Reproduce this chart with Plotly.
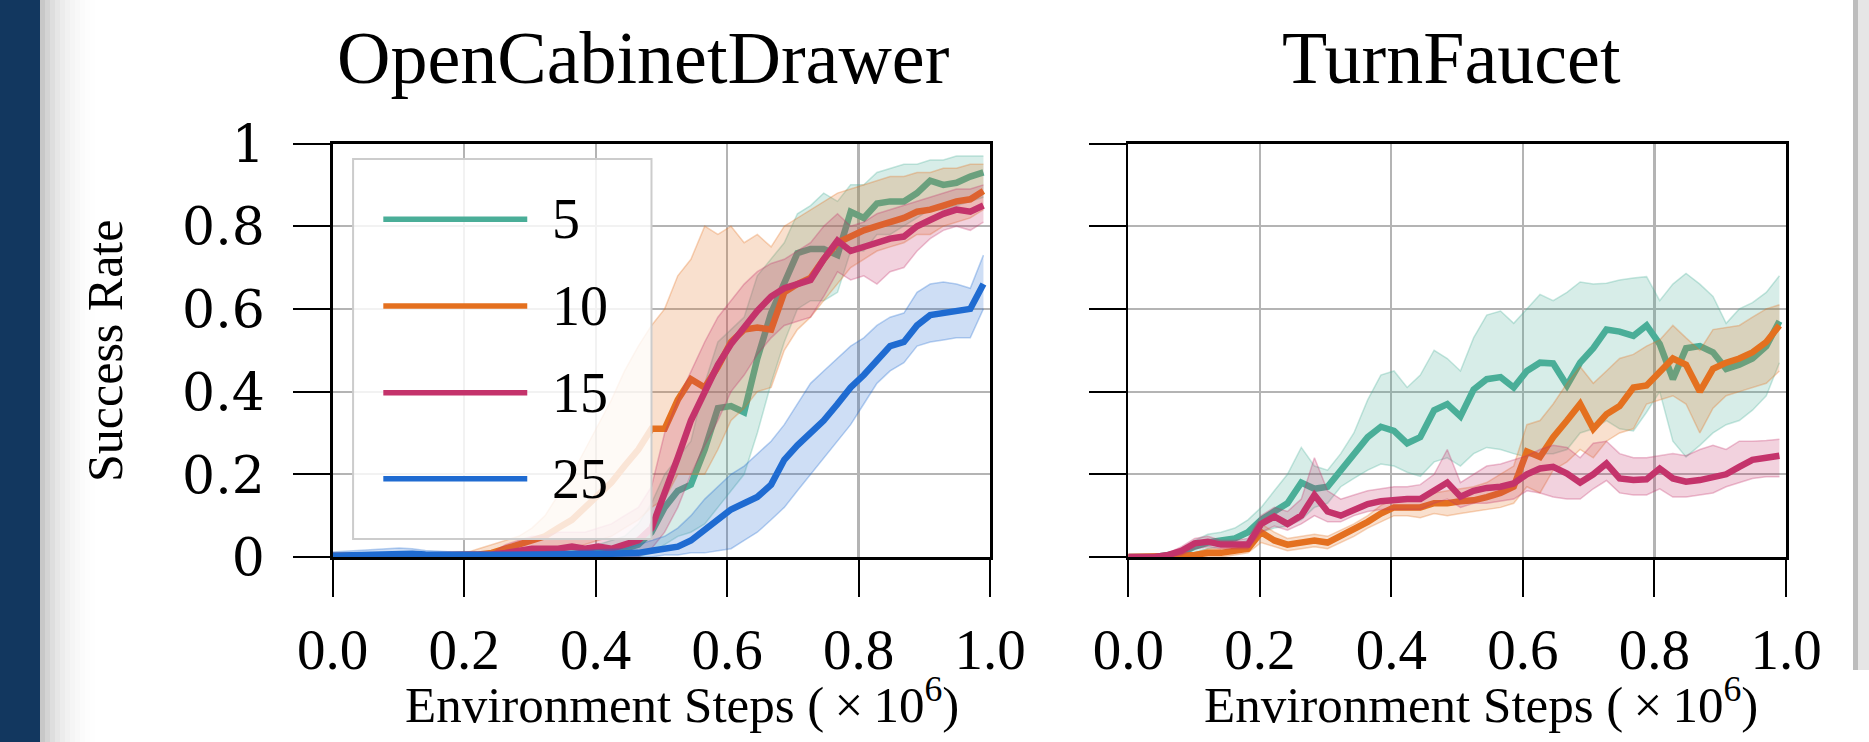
import plotly.graph_objects as go

# ---------------- data ----------------
STEPS = [0.000, 0.020, 0.040, 0.061, 0.081, 0.101, 0.121, 0.141, 0.162, 0.182,
         0.202, 0.222, 0.242, 0.263, 0.283, 0.303, 0.323, 0.343, 0.364, 0.384,
         0.404, 0.424, 0.444, 0.465, 0.485, 0.505, 0.525, 0.545, 0.566, 0.586,
         0.606, 0.626, 0.646, 0.667, 0.687, 0.707, 0.727, 0.747, 0.768, 0.788,
         0.808, 0.828, 0.848, 0.869, 0.889, 0.909, 0.929, 0.949, 0.970, 0.990]

SERIES = ["5", "10", "15", "25"]
TASKS = ["OpenCabinetDrawer", "TurnFaucet"]
X_TICKS = [0.0, 0.2, 0.4, 0.6, 0.8, 1.0]
X_TICK_TEXT = ["0.0", "0.2", "0.4", "0.6", "0.8", "1.0"]
Y_TICKS = [0, 0.2, 0.4, 0.6, 0.8, 1]
Y_TICK_TEXT = ["0", "0.2", "0.4", "0.6", "0.8", "1"]

# OpenCabinetDrawer
OCD_5_MEAN = [0.0, 0.0, 0.002, 0.002, 0.002, 0.003, 0.003, 0.003, 0.003, 0.004,
              0.004, 0.004, 0.005, 0.005, 0.005, 0.006, 0.006, 0.007, 0.008, 0.009,
              0.01, 0.015, 0.02, 0.03, 0.06, 0.12, 0.16, 0.175, 0.26, 0.36,
              0.365, 0.35, 0.48, 0.59, 0.66, 0.735, 0.745, 0.745, 0.73, 0.835,
              0.82, 0.855, 0.86, 0.86, 0.88, 0.91, 0.90, 0.905, 0.92, 0.93]
OCD_5_LO = [0.0] * 20 + \
           [0.0, 0.0, 0.0, 0.0, 0.01, 0.03, 0.05, 0.06, 0.08, 0.12,
            0.16, 0.2, 0.3, 0.42, 0.52, 0.6, 0.62, 0.62, 0.64, 0.74,
            0.74, 0.78, 0.78, 0.8, 0.82, 0.84, 0.84, 0.85, 0.86, 0.87]
OCD_5_HI = [0.006] * 20 + \
           [0.03, 0.04, 0.05, 0.08, 0.13, 0.2, 0.24, 0.28, 0.42, 0.52,
            0.55, 0.58, 0.68, 0.72, 0.76, 0.83, 0.85, 0.88, 0.86, 0.9,
            0.9, 0.93, 0.94, 0.95, 0.95, 0.96, 0.96, 0.97, 0.97, 0.97]

OCD_10_MEAN = [0.0, 0.0, 0.002, 0.002, 0.002, 0.003, 0.003, 0.003, 0.004, 0.004,
               0.005, 0.006, 0.01, 0.02, 0.03, 0.04, 0.05, 0.07, 0.09, 0.12,
               0.15, 0.18, 0.22, 0.26, 0.31, 0.31, 0.38, 0.43, 0.41, 0.46,
               0.52, 0.55, 0.555, 0.55, 0.64, 0.66, 0.675, 0.72, 0.76, 0.775,
               0.79, 0.80, 0.81, 0.82, 0.835, 0.84, 0.85, 0.86, 0.865, 0.885]
OCD_10_LO = [0.0] * 17 + \
            [0.01, 0.02, 0.03, 0.04, 0.05, 0.07, 0.09, 0.12, 0.14, 0.2,
             0.2, 0.2, 0.26, 0.33, 0.36, 0.4, 0.41, 0.5, 0.55, 0.58,
             0.62, 0.66, 0.7, 0.72, 0.74, 0.75, 0.76, 0.78, 0.78, 0.8,
             0.81, 0.82, 0.84]
OCD_10_HI = [0.01] * 11 + \
            [0.02, 0.03, 0.04, 0.05, 0.07, 0.1, 0.15, 0.2, 0.26, 0.32,
             0.38, 0.45, 0.51, 0.56, 0.6, 0.68, 0.72, 0.8, 0.78, 0.8,
             0.76, 0.78, 0.75, 0.8, 0.82, 0.84, 0.86, 0.88, 0.89, 0.9,
             0.91, 0.92, 0.92, 0.93, 0.93, 0.94, 0.94, 0.95, 0.95]

OCD_15_MEAN = [0.0, 0.002, 0.003, 0.003, 0.003, 0.003, 0.003, 0.004, 0.004, 0.004,
               0.005, 0.005, 0.006, 0.01, 0.015, 0.02, 0.02, 0.02, 0.025, 0.02,
               0.025, 0.02, 0.03, 0.04, 0.07, 0.15, 0.24, 0.33, 0.40, 0.465,
               0.515, 0.555, 0.595, 0.63, 0.65, 0.66, 0.67, 0.72, 0.765, 0.74,
               0.75, 0.76, 0.77, 0.775, 0.80, 0.815, 0.83, 0.84, 0.835, 0.85]
OCD_15_LO = [0.0] * 23 + \
            [0.0, 0.02, 0.06, 0.12, 0.2, 0.27, 0.33, 0.4, 0.44, 0.49,
             0.53, 0.56, 0.57, 0.58, 0.63, 0.69, 0.67, 0.68, 0.66, 0.69,
             0.7, 0.74, 0.77, 0.79, 0.8, 0.79, 0.81]
OCD_15_HI = [0.01] * 13 + \
            [0.03, 0.04, 0.05, 0.05, 0.06, 0.06, 0.06, 0.07, 0.08, 0.1,
             0.12, 0.17, 0.3, 0.38, 0.45, 0.52, 0.58, 0.62, 0.66, 0.69,
             0.71, 0.72, 0.74, 0.76, 0.8, 0.83, 0.8, 0.81, 0.83, 0.84,
             0.85, 0.86, 0.87, 0.88, 0.89, 0.89, 0.9]

OCD_25_MEAN = [0.003, 0.004, 0.005, 0.006, 0.008, 0.01, 0.008, 0.006, 0.005, 0.005,
               0.005, 0.005, 0.005, 0.005, 0.005, 0.006, 0.006, 0.006, 0.007, 0.007,
               0.008, 0.008, 0.009, 0.01, 0.015, 0.02, 0.025, 0.04, 0.065, 0.09,
               0.115, 0.13, 0.145, 0.175, 0.235, 0.27, 0.30, 0.33, 0.37, 0.41,
               0.44, 0.475, 0.51, 0.52, 0.56, 0.585, 0.59, 0.595, 0.60, 0.66]
OCD_25_LO = [0.0] * 23 + \
            [0.0, 0.0, 0.005, 0.005, 0.01, 0.01, 0.015, 0.02, 0.04, 0.06,
             0.09, 0.12, 0.16, 0.2, 0.24, 0.28, 0.32, 0.37, 0.42, 0.45,
             0.47, 0.51, 0.52, 0.525, 0.53, 0.53, 0.6]
OCD_25_HI = [0.012, 0.014, 0.016, 0.018, 0.02, 0.022, 0.02, 0.016, 0.014, 0.012,
             0.012, 0.012, 0.012, 0.012, 0.012, 0.013, 0.013, 0.014, 0.015, 0.016,
             0.017, 0.018, 0.02, 0.03, 0.04, 0.05, 0.07, 0.1, 0.14, 0.17,
             0.2, 0.22, 0.25, 0.28, 0.32, 0.37, 0.42, 0.45, 0.48, 0.51,
             0.53, 0.56, 0.58, 0.59, 0.64, 0.66, 0.665, 0.66, 0.65, 0.73]

# TurnFaucet
TF_5_MEAN = [0.0, 0.0, 0.0, 0.005, 0.01, 0.025, 0.035, 0.04, 0.045, 0.06,
             0.09, 0.11, 0.13, 0.18, 0.165, 0.17, 0.21, 0.25, 0.29, 0.315,
             0.305, 0.275, 0.29, 0.355, 0.37, 0.34, 0.405, 0.43, 0.435, 0.41,
             0.45, 0.47, 0.468, 0.415, 0.47, 0.505, 0.55, 0.545, 0.535, 0.56,
             0.515, 0.43, 0.505, 0.51, 0.495, 0.455, 0.465, 0.48, 0.51, 0.57]
TF_5_LO = [0.0, 0.0, 0.0, 0.0, 0.0, 0.01, 0.02, 0.025, 0.03, 0.04,
           0.06, 0.07, 0.075, 0.09, 0.12, 0.13, 0.17, 0.19, 0.21, 0.225,
           0.22, 0.205, 0.195, 0.23, 0.24, 0.22, 0.25, 0.265, 0.26, 0.25,
           0.242, 0.25, 0.25, 0.26, 0.3, 0.31, 0.33, 0.31, 0.305, 0.35,
           0.4, 0.28, 0.242, 0.27, 0.3, 0.32, 0.33, 0.355, 0.39, 0.47]
TF_5_HI = [0.005, 0.005, 0.005, 0.01, 0.02, 0.04, 0.055, 0.06, 0.07, 0.09,
           0.12, 0.16, 0.2, 0.265, 0.22, 0.21, 0.25, 0.3, 0.38, 0.44,
           0.45, 0.41, 0.44, 0.5, 0.48, 0.45, 0.53, 0.585, 0.595, 0.565,
           0.6, 0.635, 0.62, 0.64, 0.665, 0.66, 0.662, 0.67, 0.675, 0.678,
           0.62, 0.66, 0.686, 0.66, 0.63, 0.565, 0.6, 0.615, 0.64, 0.68]

TF_10_MEAN = [0.0, 0.0, 0.0, 0.0, 0.003, 0.005, 0.01, 0.01, 0.015, 0.02,
              0.06, 0.04, 0.03, 0.035, 0.04, 0.035, 0.05, 0.065, 0.085, 0.105,
              0.12, 0.12, 0.12, 0.13, 0.13, 0.135, 0.137, 0.145, 0.155, 0.17,
              0.255, 0.242, 0.29, 0.33, 0.37, 0.31, 0.345, 0.365, 0.41, 0.415,
              0.45, 0.48, 0.465, 0.4, 0.455, 0.47, 0.48, 0.495, 0.52, 0.56]
TF_10_LO = [0.0, 0.0, 0.0, 0.0, 0.0, 0.0, 0.0, 0.0, 0.005, 0.01,
            0.035, 0.025, 0.015, 0.02, 0.025, 0.02, 0.035, 0.05, 0.07, 0.085,
            0.1, 0.1, 0.095, 0.105, 0.1, 0.105, 0.11, 0.115, 0.12, 0.13,
            0.17, 0.155, 0.21, 0.23, 0.26, 0.24, 0.28, 0.3, 0.31, 0.37,
            0.38, 0.39, 0.37, 0.3, 0.36, 0.39, 0.4, 0.41, 0.42, 0.45]
TF_10_HI = [0.005, 0.005, 0.005, 0.005, 0.005, 0.01, 0.02, 0.02, 0.025, 0.03,
            0.08, 0.06, 0.045, 0.05, 0.055, 0.05, 0.065, 0.08, 0.1, 0.125,
            0.14, 0.14, 0.145, 0.155, 0.16, 0.165, 0.17, 0.18, 0.2, 0.22,
            0.32, 0.33, 0.37, 0.42, 0.46, 0.42, 0.45, 0.48, 0.49, 0.51,
            0.525, 0.56, 0.53, 0.5, 0.55, 0.555, 0.56, 0.58, 0.6, 0.61]

TF_15_MEAN = [0.0, 0.0, 0.0, 0.005, 0.015, 0.033, 0.037, 0.03, 0.029, 0.03,
              0.08, 0.098, 0.08, 0.1, 0.15, 0.11, 0.1, 0.115, 0.128, 0.135,
              0.138, 0.14, 0.14, 0.16, 0.18, 0.146, 0.16, 0.167, 0.17, 0.178,
              0.2, 0.214, 0.218, 0.202, 0.18, 0.2, 0.226, 0.19, 0.186, 0.188,
              0.214, 0.19, 0.182, 0.186, 0.192, 0.2, 0.218, 0.235, 0.24, 0.245]
TF_15_LO = [0.0, 0.0, 0.0, 0.0, 0.005, 0.02, 0.025, 0.02, 0.02, 0.02,
            0.06, 0.075, 0.065, 0.08, 0.1, 0.085, 0.085, 0.1, 0.11, 0.115,
            0.115, 0.115, 0.115, 0.13, 0.14, 0.12, 0.13, 0.13, 0.135, 0.14,
            0.16, 0.155, 0.145, 0.14, 0.14, 0.165, 0.185, 0.155, 0.15, 0.15,
            0.165, 0.145, 0.145, 0.15, 0.155, 0.17, 0.18, 0.19, 0.194, 0.194]
TF_15_HI = [0.005, 0.005, 0.005, 0.01, 0.025, 0.045, 0.05, 0.04, 0.04, 0.045,
            0.1, 0.12, 0.11, 0.14, 0.24, 0.16, 0.14, 0.15, 0.16, 0.165,
            0.17, 0.17, 0.175, 0.2, 0.26, 0.18, 0.2, 0.22, 0.225, 0.235,
            0.245, 0.26, 0.27, 0.265, 0.24, 0.275, 0.28, 0.25, 0.24, 0.24,
            0.245, 0.25, 0.245, 0.26, 0.27, 0.26, 0.28, 0.28, 0.282, 0.285]

COLORS = {"5": "#4aae98", "10": "#e4701f", "15": "#c4336b", "25": "#1f6bd1"}

PANELS = [
    ("x", "y", [("5", OCD_5_MEAN, OCD_5_LO, OCD_5_HI),
                ("10", OCD_10_MEAN, OCD_10_LO, OCD_10_HI),
                ("15", OCD_15_MEAN, OCD_15_LO, OCD_15_HI),
                ("25", OCD_25_MEAN, OCD_25_LO, OCD_25_HI)]),
    ("x2", "y2", [("5", TF_5_MEAN, TF_5_LO, TF_5_HI),
                  ("10", TF_10_MEAN, TF_10_LO, TF_10_HI),
                  ("15", TF_15_MEAN, TF_15_LO, TF_15_HI)]),
]

W, H = 1869, 742
SERIF = "Liberation Serif"


def rgba(hexcol, a):
    h = hexcol.lstrip("#")
    r, g, b = int(h[0:2], 16), int(h[2:4], 16), int(h[4:6], 16)
    return f"rgba({r},{g},{b},{a})"


fig = go.Figure()
for xa, ya, series in PANELS:
    for name, mean, lo, hi in series:
        c = COLORS[name]
        fig.add_trace(go.Scatter(x=STEPS, y=lo, xaxis=xa, yaxis=ya, mode="lines",
                                 line=dict(color=rgba(c, 0.3), width=1.5),
                                 showlegend=False, hoverinfo="skip"))
        fig.add_trace(go.Scatter(x=STEPS, y=hi, xaxis=xa, yaxis=ya, mode="lines",
                                 fill="tonexty", fillcolor=rgba(c, 0.22),
                                 line=dict(color=rgba(c, 0.3), width=1.5),
                                 showlegend=False, hoverinfo="skip"))
        fig.add_trace(go.Scatter(x=STEPS, y=mean, xaxis=xa, yaxis=ya, mode="lines",
                                 name=name, line=dict(color=c, width=6.5),
                                 showlegend=False))

# pixel geometry of the two panels
PX_L = (332.7, 990.0)
PX_R = (1128.3, 1786.0)
PX_TOP, PX_BOT = 143.5, 557.0

axis_common = dict(range=[0, 1], showgrid=True, gridcolor="#b4b4b4", gridwidth=2.2,
                   showline=True, linecolor="black", linewidth=2.5, mirror=True,
                   ticks="outside", ticklen=37, tickwidth=2, tickcolor="black",
                   zeroline=False, fixedrange=True, automargin=False)

xdom_l = [PX_L[0] / W, PX_L[1] / W]
xdom_r = [PX_R[0] / W, PX_R[1] / W]
ydom = [(H - PX_BOT) / H, (H - PX_TOP) / H]

xfont = dict(family=SERIF, size=57, color="black")
yfont = dict(family="DejaVu Serif", size=52, color="black")

fig.update_layout(
    width=W, height=H,
    margin=dict(l=0, r=0, t=0, b=0, pad=0, autoexpand=False),
    paper_bgcolor="white", plot_bgcolor="white",
    showlegend=False,
    xaxis=dict(domain=xdom_l, anchor="y", tickvals=X_TICKS, ticktext=X_TICK_TEXT,
               tickfont=xfont, ticklabelstandoff=4, **axis_common),
    yaxis=dict(domain=ydom, anchor="x", tickvals=Y_TICKS, ticktext=Y_TICK_TEXT,
               tickfont=yfont, ticklabelstandoff=18, **axis_common),
    xaxis2=dict(domain=xdom_r, anchor="y2", tickvals=X_TICKS, ticktext=X_TICK_TEXT,
                tickfont=xfont, ticklabelstandoff=4, **axis_common),
    yaxis2=dict(domain=ydom, anchor="x2", tickvals=Y_TICKS, showticklabels=False,
                **axis_common),
)

shapes = []
# dark navy band on the left edge + soft shadow
shapes.append(dict(type="rect", xref="paper", yref="paper", x0=0, x1=40 / W, y0=0, y1=1,
                   fillcolor="#12375f", line=dict(width=0), layer="below"))
shade = [200, 212, 222, 230, 236, 241, 245, 248, 251, 253, 254]
for k, v in enumerate(shade):
    shapes.append(dict(type="rect", xref="paper", yref="paper",
                       x0=(40 + 5 * k) / W, x1=(45 + 5 * k) / W, y0=0, y1=1,
                       fillcolor=f"rgb({v},{v},{v})", line=dict(width=0), layer="below"))
# light grey strip on the right edge
shapes.append(dict(type="rect", xref="paper", yref="paper", x0=1853 / W, x1=1858 / W,
                   y0=(H - 670) / H, y1=1, fillcolor="#bdbdbd", line=dict(width=0), layer="below"))
shapes.append(dict(type="rect", xref="paper", yref="paper", x0=1858 / W, x1=1,
                   y0=(H - 670) / H, y1=1, fillcolor="#e6e6e6", line=dict(width=0), layer="below"))

# manual legend inside the left panel (long line samples)
shapes.append(dict(type="rect", xref="x domain", yref="y domain", x0=0.031, x1=0.485,
                   y0=0.0435, y1=0.9625, fillcolor="rgba(255,255,255,0.82)",
                   line=dict(color="#cccccc", width=2), layer="above"))
LEG_Y = [0.817, 0.607, 0.397, 0.189]
annotations = []
for name, ly in zip(SERIES, LEG_Y):
    shapes.append(dict(type="line", xref="x domain", yref="y domain", x0=0.077, x1=0.296,
                       y0=ly, y1=ly, line=dict(color=COLORS[name], width=5.5), layer="above"))
    annotations.append(dict(xref="x domain", yref="y domain", x=0.33, y=ly, text=name,
                            showarrow=False, xanchor="left", yanchor="middle",
                            font=dict(family=SERIF, size=56, color="black")))

# panel titles
for task, cx in zip(TASKS, [643, 1451]):
    annotations.append(dict(xref="paper", yref="paper", x=cx / W, y=(H - 101) / H,
                            text=task, showarrow=False, xanchor="center", yanchor="bottom",
                            font=dict(family=SERIF, size=74, color="black")))
# x-axis titles
for cx in [682, 1481]:
    annotations.append(dict(xref="paper", yref="paper", x=cx / W, y=(H - 735) / H,
                            text="Environment Steps (\u2009\u00d7\u200910<sup>6</sup>)",
                            showarrow=False, xanchor="center", yanchor="bottom",
                            font=dict(family=SERIF, size=51, color="black")))
# y-axis title
annotations.append(dict(xref="paper", yref="paper", x=105 / W, y=(H - 351) / H,
                        text="Success Rate", textangle=-90, showarrow=False,
                        xanchor="center", yanchor="middle",
                        font=dict(family=SERIF, size=50, color="black")))

fig.update_layout(shapes=shapes, annotations=annotations)
fig.write_html("out.html",
               config={"displayModeBar": False, "staticPlot": True},
               post_script="document.body.style.margin='0px';"
                           "document.documentElement.style.overflow='hidden';")
